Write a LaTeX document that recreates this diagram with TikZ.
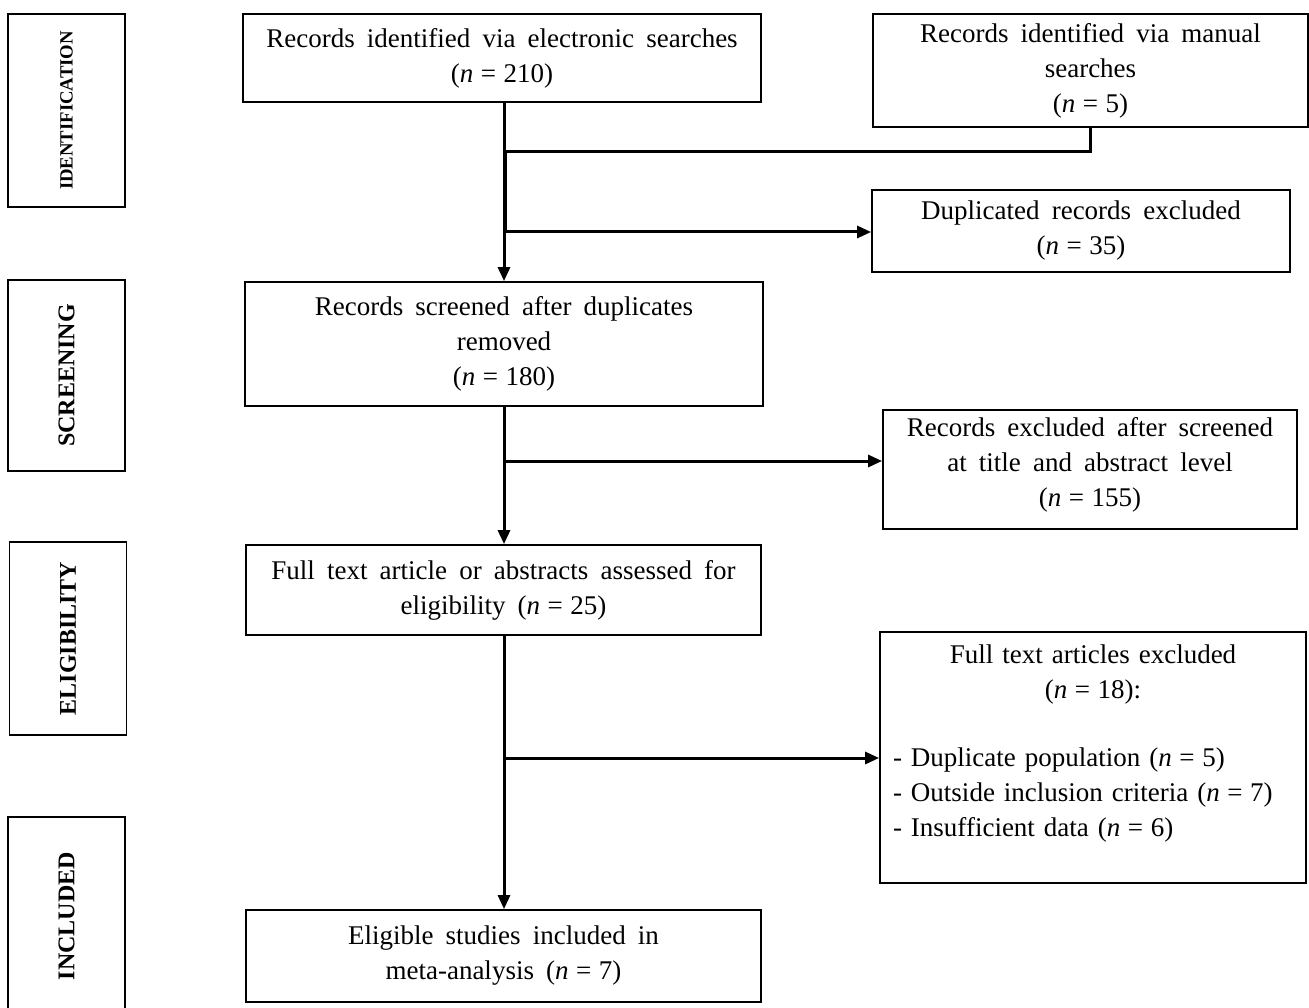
\documentclass[tikz,border=0pt]{standalone}
\usepackage{fontspec}
\setmainfont{Liberation Serif}
\usetikzlibrary{arrows.meta}
\newcommand\mfsz{\fontsize{27}{35}\selectfont\spaceskip=0.45em plus 0.2em minus 0.1em\relax}
\newcommand\nn[1]{(\textit{n}\kern0.28em=\kern0.28em#1)}
\begin{document}
\begin{tikzpicture}[x=1pt,y=-1pt,
  box/.style={draw, line width=1.8pt, inner sep=0pt, align=center, font=\mfsz},
  side/.style={draw, line width=1.8pt, inner sep=0pt, rotate=90, minimum height=117pt, font=\bfseries\fontsize{24}{28}\selectfont},
  conn/.style={line width=3pt},
  arr/.style={line width=3pt, -{Triangle[length=14pt,width=12pt]}}]
\useasboundingbox (0,0) rectangle (1309,1008);
% side labels
\node[side, minimum width=193pt, font=\bfseries\fontsize{18.7}{22}\selectfont] (sid) at (66.5,110.5) {IDENTIFICATION};
\node[side, minimum width=191pt] (sscr) at (66.5,375.5) {SCREENING};
\node[side, minimum width=193pt] (selig) at (68,638.5) {ELIGIBILITY};
\node[side, minimum width=198pt] (sinc) at (66.5,916) {INCLUDED};
% main boxes
\node[box, minimum width=518pt, minimum height=88pt] (b1) at (502,58)
  {Records identified via electronic searches\\\nn{210}};
\node[box, minimum width=435pt, minimum height=113pt] (b2) at (1090.5,70.5)
  {Records identified via manual\\searches\\\nn{5}};
\node[box, minimum width=418pt, minimum height=82pt] (b3) at (1081,231)
  {Duplicated records excluded\\\nn{35}};
\node[box, minimum width=518pt, minimum height=124pt] (b4) at (504,344)
  {Records screened after duplicates\\removed\\\nn{180}};
\node[box, minimum width=414pt, minimum height=119pt, text depth=16pt] (b5) at (1090,469.5)
  {Records excluded after screened\\at title and abstract level\\\nn{155}};
\node[box, minimum width=515pt, minimum height=90pt] (b6) at (503.5,590)
  {Full text article or abstracts assessed for\\eligibility \nn{25}};
\node[box, minimum width=426pt, minimum height=251pt, text width=400pt, inner xsep=13pt, align=left, text depth=207pt] (b7) at (1093,757.5)
  {{\centering Full text articles excluded\\\nn{18}:\par}\vspace{33pt}%
   - Duplicate population \nn{5}\\
   - Outside inclusion criteria \nn{7}\\
   - Insufficient data \nn{6}};
\node[box, minimum width=515pt, minimum height=92pt] (b8) at (503.5,956)
  {Eligible studies included in\\meta-analysis \nn{7}};
% junctions
\coordinate (j1) at (505.5,152);
\coordinate (j2) at (504,232);
\coordinate (j3) at (504,461);
\coordinate (j4) at (504,758);
% connectors
\draw[arr] (b1.south -| j2) -- (b4.north -| j2);
\draw[conn] (b2.south) |- (j1) -- (j1 |- j2);
\draw[arr] (j2) -- (j2 -| b3.west);
\draw[arr] (b4.south -| j3) -- (b6.north -| j3);
\draw[arr] (j3) -- (j3 -| b5.west);
\draw[arr] (b6.south -| j4) -- (b8.north -| j4);
\draw[arr] (j4) -- (j4 -| b7.west);
\end{tikzpicture}
\end{document}
